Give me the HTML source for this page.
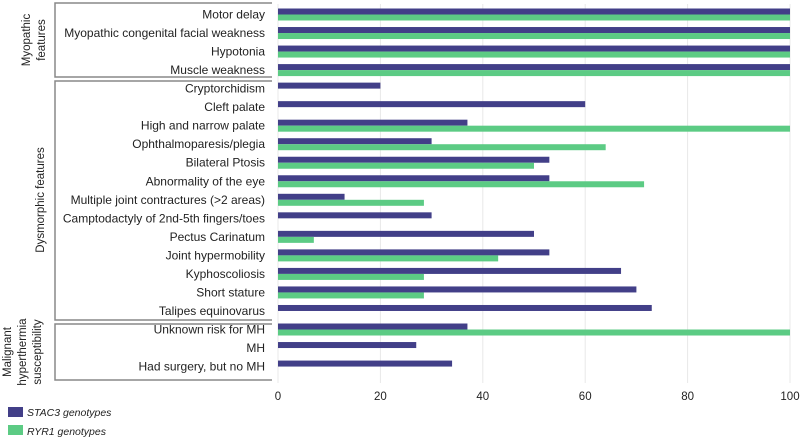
<!DOCTYPE html>
<html><head><meta charset="utf-8"><style>
body{margin:0;background:#fff;font-family:"Liberation Sans",sans-serif;}
svg text{font-family:"Liberation Sans",sans-serif;fill:#222;}
</style></head><body>
<svg id="chart" width="800" height="438">
<g id="grid"></g><g id="bars"></g><g id="labels"></g>
<g stroke="#888" stroke-width="1.5" fill="none">
<path d="M272,3 H55 V77 H272"/>
<path d="M272,81 H55 V320 H272"/>
<path d="M272,324 H55 V380 H272"/>
</g>
<text font-size="11.5" text-anchor="middle" transform="translate(30,40) rotate(-90)">Myopathic</text>
<text font-size="11.5" text-anchor="middle" transform="translate(45,40) rotate(-90)">features</text>
<text font-size="11.5" text-anchor="middle" transform="translate(44,200) rotate(-90)">Dysmorphic features</text>
<text font-size="11.5" text-anchor="middle" transform="translate(11,352) rotate(-90)">Malignant</text>
<text font-size="11.5" text-anchor="middle" transform="translate(26,352) rotate(-90)">hyperthermia</text>
<text font-size="11.5" text-anchor="middle" transform="translate(41,352) rotate(-90)">susceptibility</text>
<rect x="8" y="407" width="15" height="10" fill="#423f88"/>
<text x="27" y="416" font-size="10.5" font-style="italic">STAC3 genotypes</text>
<rect x="8" y="425" width="15" height="10" fill="#5ccb84"/>
<text x="27" y="435" font-size="10.5" font-style="italic">RYR1 genotypes</text>
</svg>
<script>
const categories=["Motor delay","Myopathic congenital facial weakness","Hypotonia","Muscle weakness","Cryptorchidism","Cleft palate","High and narrow palate","Ophthalmoparesis/plegia","Bilateral Ptosis","Abnormality of the eye","Multiple joint contractures (>2 areas)","Camptodactyly of 2nd-5th fingers/toes","Pectus Carinatum","Joint hypermobility","Kyphoscoliosis","Short stature","Talipes equinovarus","Unknown risk for MH","MH","Had surgery, but  no MH"];
const stac3=[100,100,100,100,20,60,37,30,53,53,13,30,50,53,67,70,73,37,27,34];
const ryr1=[100,100,100,100,0,0,100,64,50,71.5,28.5,0,7,43,28.5,28.5,0,100,0,0];
const ticks=[0,20,40,60,80,100];
const NS="http://www.w3.org/2000/svg";
const x=v=>278+v*5.12;
const y=i=>14.5+i*18.53;
const grid=document.getElementById('grid'),bars=document.getElementById('bars'),labels=document.getElementById('labels');
function mk(tag,attrs,parent){const e=document.createElementNS(NS,tag);for(const k in attrs)e.setAttribute(k,attrs[k]);parent.appendChild(e);return e;}
ticks.forEach(t=>{
 const l=mk('line',{x1:x(t),x2:x(t),y1:4,y2:383,stroke:'#e8e8e8'},grid);
 
 
 const tx=mk('text',{x:x(t),y:400,'font-size':11.5,'text-anchor':'middle',fill:'#555'},labels);
 tx.textContent=t;
 
 
});
categories.forEach((c,i)=>{
 const tx=mk('text',{x:265,y:y(i)+4,'font-size':12,'text-anchor':'end'},labels);
 tx.textContent=c;
 
 
 if(stac3[i]>0){const b=mk('rect',{x:x(0),y:y(i)-6,width:x(stac3[i])-x(0),height:6,fill:'#423f88'},bars);
 
 }
 if(ryr1[i]>0){const b=mk('rect',{x:x(0),y:y(i),width:x(ryr1[i])-x(0),height:6,fill:'#5ccb84'},bars);
 
 }
});
</script>
</body></html>
